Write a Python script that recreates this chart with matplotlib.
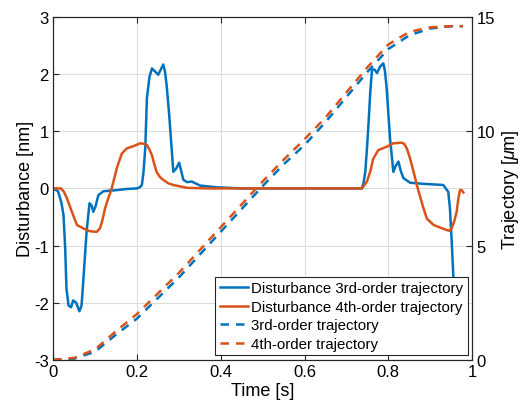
import matplotlib
matplotlib.use('Agg')
import matplotlib.pyplot as plt

plt.rcParams['font.family'] = ['Liberation Sans', 'DejaVu Sans']
plt.rcParams['mathtext.fontset'] = 'custom'
plt.rcParams['mathtext.it'] = 'Liberation Sans:italic'
plt.rcParams['mathtext.rm'] = 'Liberation Sans'

# disturbance with 3rd-order trajectory [nm]
t3 = [0, 0.012, 0.02, 0.025, 0.029, 0.032, 0.037, 0.043, 0.048, 0.055,
      0.063, 0.068, 0.072, 0.076, 0.080, 0.087, 0.092, 0.096, 0.102, 0.108,
      0.12, 0.135, 0.152, 0.175, 0.2, 0.207, 0.212, 0.216, 0.22, 0.224,
      0.23, 0.236, 0.243, 0.251, 0.257, 0.263, 0.267, 0.271, 0.277, 0.283,
      0.287, 0.294, 0.301, 0.306, 0.311, 0.32, 0.331, 0.351, 0.39, 0.45,
      0.6, 0.737, 0.741, 0.745, 0.749, 0.753, 0.757, 0.761, 0.767, 0.773,
      0.78, 0.788, 0.792, 0.796, 0.804, 0.812, 0.818, 0.824, 0.83, 0.836,
      0.852, 0.884, 0.931, 0.943, 0.947, 0.951, 0.955, 0.96, 0.965, 0.972,
      0.978]
d3 = [0, -0.05, -0.25, -0.47, -1.05, -1.75, -2.05, -2.08, -1.96, -2.0,
      -2.15, -2.05, -1.64, -1.2, -0.76, -0.26, -0.3, -0.41, -0.3, -0.12,
      -0.05, -0.04, -0.03, -0.01, 0.0, 0.02, 0.06, 0.3, 0.7, 1.58,
      1.95, 2.1, 2.05, 1.99, 2.08, 2.17, 2.05, 1.81, 1.3, 0.7,
      0.29, 0.35, 0.45, 0.3, 0.15, 0.11, 0.12, 0.05, 0.02, 0.0,
      0.0, 0.0, 0.1, 0.29, 0.7, 1.17, 1.7, 2.08, 2.08, 2.02,
      2.13, 2.19, 2.05, 1.75, 0.88, 0.29, 0.4, 0.47, 0.3, 0.18,
      0.1, 0.08, 0.06, -0.06, -0.35, -0.9, -1.52, -2.0, -2.1, -2.0,
      -2.1]

# disturbance with 4th-order trajectory [nm]
t4 = [0, 0.019, 0.026, 0.033, 0.045, 0.057, 0.072, 0.088, 0.104, 0.112,
      0.118, 0.124, 0.132, 0.14, 0.152, 0.164, 0.176, 0.192, 0.208, 0.218,
      0.224, 0.23, 0.236, 0.241, 0.247, 0.255, 0.263, 0.275, 0.287, 0.32,
      0.37, 0.737, 0.749, 0.757, 0.764, 0.776, 0.796, 0.812, 0.832, 0.838,
      0.844, 0.85, 0.856, 0.862, 0.868, 0.876, 0.884, 0.892, 0.908, 0.925,
      0.94, 0.946, 0.951, 0.957, 0.963, 0.967, 0.971, 0.975, 0.979]
d4 = [0, 0, -0.06, -0.17, -0.41, -0.64, -0.70, -0.75, -0.76, -0.70,
      -0.55, -0.35, -0.17, 0.0, 0.35, 0.61, 0.70, 0.74, 0.79, 0.78,
      0.76, 0.68, 0.58, 0.44, 0.29, 0.2, 0.15, 0.09, 0.06, 0.01,
      0.0, 0.0, 0.12, 0.3, 0.52, 0.67, 0.73, 0.79, 0.80, 0.78,
      0.70, 0.57, 0.41, 0.24, 0.06, -0.15, -0.35, -0.53, -0.64, -0.69,
      -0.73, -0.74, -0.70, -0.58, -0.41, -0.18, -0.03, -0.03, -0.07]

# trajectories [um]
tt = [0, 0.05, 0.1, 0.15, 0.2, 0.25, 0.3, 0.35, 0.4, 0.45, 0.5,
      0.55, 0.6, 0.65, 0.7, 0.75, 0.8, 0.85, 0.9, 0.95, 0.978]
traj3 = [0, 0.05, 0.35, 1.1, 1.8, 2.7, 3.6, 4.6, 5.6, 6.6, 7.6,
         8.55, 9.4, 10.4, 11.5, 12.6, 13.6, 14.2, 14.5, 14.6, 14.6]
traj4 = [0, 0.08, 0.45, 1.25, 2.0, 2.9, 3.8, 4.8, 5.8, 6.8, 7.8,
         8.75, 9.65, 10.6, 11.7, 12.8, 13.8, 14.35, 14.55, 14.6, 14.6]

blue = '#0072BD'
orange = '#D95319'

fig = plt.figure(figsize=(5.2, 4.1), dpi=100)
ax = fig.add_axes([0.102, 0.12, 0.806, 0.836])
ax2 = ax.twinx()

l1, = ax.plot(t3, d3, color=blue, lw=1.8, label='Disturbance 3rd-order trajectory')
l2, = ax.plot(t4, d4, color=orange, lw=1.8, label='Disturbance 4th-order trajectory')
l3, = ax2.plot(tt, traj3, color=blue, lw=1.8, dashes=(3.4, 2.8), label='3rd-order trajectory')
l4, = ax2.plot(tt, traj4, color=orange, lw=1.8, dashes=(3.4, 2.8), label='4th-order trajectory')

ax.set_xlim(0, 1)
ax.set_ylim(-3, 3)
ax2.set_ylim(0, 15)
ax.set_xticks([0, 0.2, 0.4, 0.6, 0.8, 1])
ax.set_xticklabels(['0', '0.2', '0.4', '0.6', '0.8', '1'])
ax.set_yticks([-3, -2, -1, 0, 1, 2, 3])
ax.set_yticklabels(['-3', '-2', '-1', '0', '1', '2', '3'])
ax2.set_yticks([0, 5, 10, 15])

ax.grid(True, color='#dcdcdc', lw=0.8)
ax.tick_params(direction='in', top=True, labelsize=12, length=4, color='#262626', pad=3)
ax2.tick_params(direction='in', labelsize=12, length=4, color='#262626', pad=3)
for a in (ax, ax2):
    for s in a.spines.values():
        s.set_color('#262626')
        s.set_linewidth(0.8)

ax.set_xlabel('Time [s]', fontsize=13, labelpad=2)
ax.set_ylabel('Disturbance [nm]', fontsize=13, labelpad=0)
ax2.set_ylabel(r'Trajectory [$\mu$m]', fontsize=13, labelpad=4)

leg = ax2.legend(handles=[l1, l2, l3, l4], loc='lower right', fontsize=10.8,
                 handlelength=1.9, handletextpad=0.2, labelspacing=0.3,
                 borderaxespad=0.3, borderpad=0.3, fancybox=False, framealpha=1)
leg.get_frame().set_edgecolor('#262626')
leg.get_frame().set_linewidth(0.8)

fig.savefig('out.png', dpi=100)
